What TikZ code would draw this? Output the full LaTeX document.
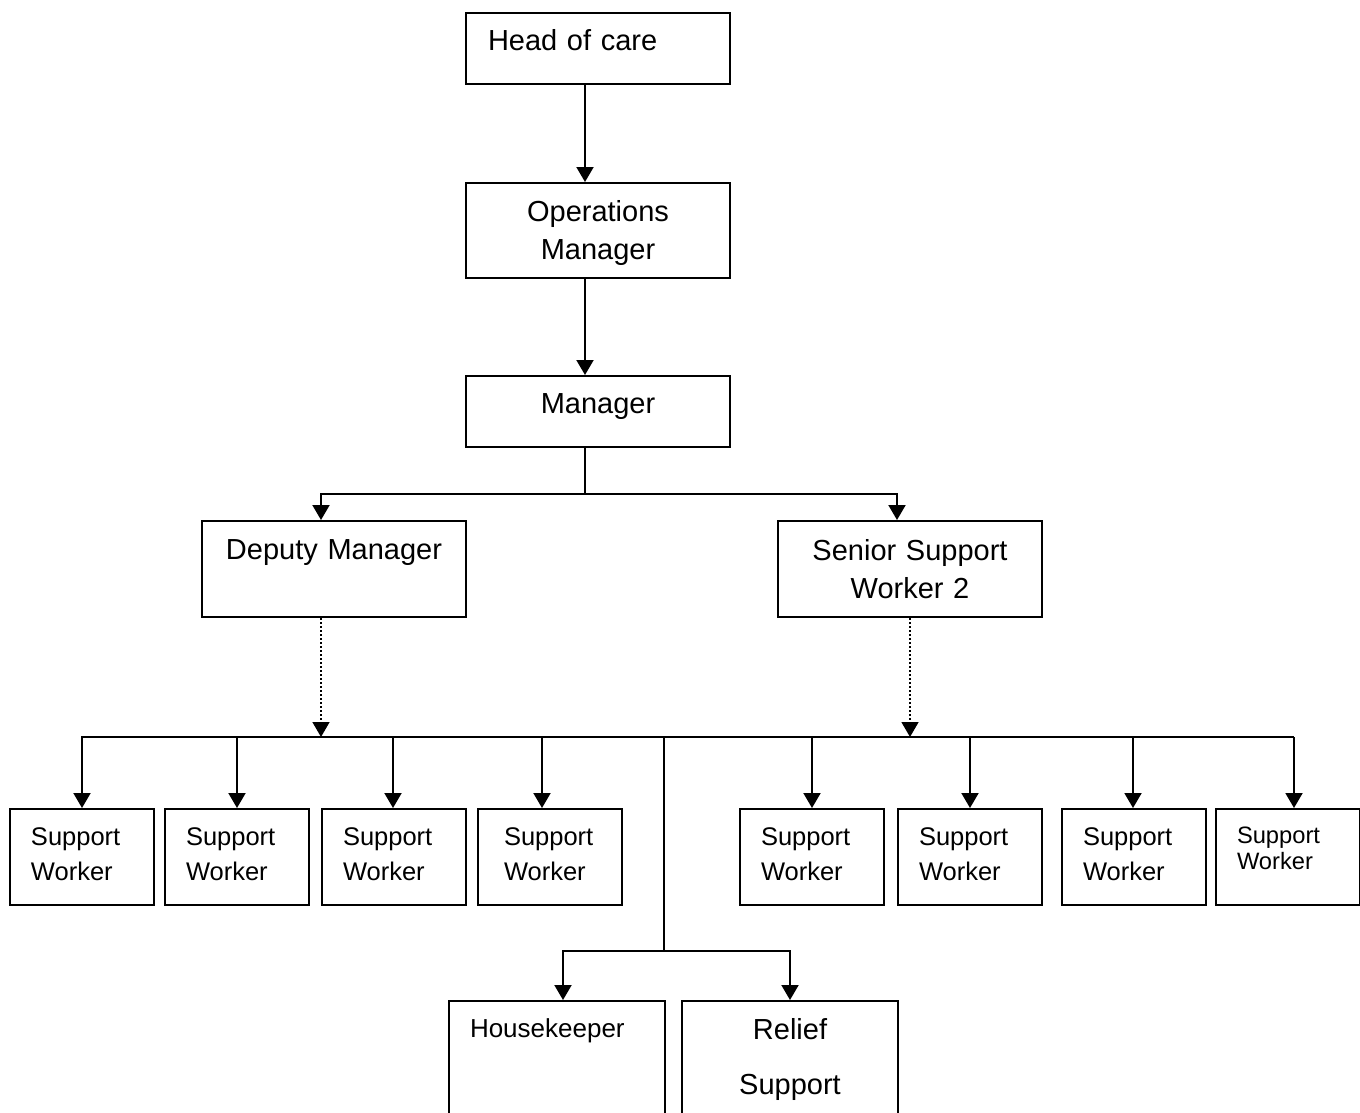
\documentclass[tikz,border=0pt]{standalone}
\usepackage{fontspec}
\setmainfont{Liberation Sans}
\usetikzlibrary{arrows.meta}

\begin{document}
\begin{tikzpicture}[x=0.5pt, y=-0.5pt]
            \tikzstyle{box} = [draw, line width=1pt, anchor=north west, inner ysep=0pt]
            \tikzstyle{big} = [font=\fontsize{14.5pt}{19pt}\selectfont]
            \tikzstyle{wide} = [text width=122pt, inner xsep=5pt, align=center]
            \tikzstyle{worker} = [font=\fontsize{12.75pt}{17.5pt}\selectfont, align=left, text height=18pt, text depth=30pt]
            \tikzstyle{link} = [line width=1pt]
            \tikzstyle{arr} = [line width=1pt, -{Triangle[width=8.5pt, length=7.5pt]}]
            \tikzstyle{weak} = [line width=0.75pt, dash pattern=on 1pt off 1pt, -{Triangle[width=8.5pt, length=7.5pt]}]
            \useasboundingbox (0, 0) rectangle (1360, 1113);
            \clip (0, 0) rectangle (1360, 1113);
            \coordinate (mj) at (585, 494);
            \coordinate (dj) at (321, 494);
            \coordinate (sj) at (897, 494);
            \coordinate (rowL) at (81, 737);
            \coordinate (rowR) at (1294, 737);
            \coordinate (hj) at (664, 737);
            \coordinate (bj) at (664, 951);
            \node[box, big, text width=110pt, inner xsep=11pt, align=left, text height=19pt, text depth=16.5pt] (head) at (465, 12) {Head of care};
            \node[box, big, wide, text height=19pt, text depth=28.5pt] (ops) at (465, 182) {Operations\\Manager};
            \node[box, big, wide, text height=18.5pt, text depth=17pt] (mgr) at (465, 375) {Manager};
            \node[box, big, wide, text height=19pt, text depth=29pt] (deputy) at (201, 520) {Deputy Manager};
            \node[box, big, wide, text height=19.5pt, text depth=28.5pt] (senior) at (777, 520) {Senior Support\\Worker 2};
            \foreach \n/\x/\pad/\w in {1/9/10.5pt/51pt, 2/164/10.5pt/51pt, 3/321/10.5pt/51pt, 4/477/13pt/46pt,
                5/739/10.5pt/51pt, 6/897/10.5pt/51pt, 7/1061/10.5pt/51pt}
                \node[box, worker, inner xsep=\pad, text width=\w] (sw\n) at (\x, 808) {Support\\Worker};
            \node[box, worker, font=\fontsize{11.85pt}{13.35pt}\selectfont, inner xsep=10.5pt, text width=51pt, text height=17pt, text depth=31pt] (sw8) at (1215, 808) {Support\\Worker};
            \node[box, font=\fontsize{13pt}{16pt}\selectfont, text width=87pt, inner xsep=10.5pt, align=left, text height=18pt, text depth=57pt] (house) at (448, 1000) {Housekeeper};
            \node[box, font=\fontsize{14.5pt}{27.5pt}\selectfont, text width=98pt, inner xsep=5pt, align=center, text height=19pt, text depth=56pt] (relief) at (681, 1000) {Relief\\Support};
            % top of the chart
            \draw[arr] (head.south -| mj) -- (ops.north -| mj);
            \draw[arr] (ops.south -| mj) -- (mgr.north -| mj);
            \draw[link] (mgr.south -| mj) -- (mj);
            \draw[arr] (mj) -| (dj |- deputy.north);
            \draw[arr] (mj) -| (sj |- senior.north);
            \draw[weak] (dj |- deputy.south) -- (dj |- rowL);
            \draw[weak] (senior.south) -- (senior.south |- rowL);
            % support workers
            \draw[link] (rowL) -- (rowR);
            \foreach \n/\dx in {1/0, 2/0, 3/-1, 4/-8, 5/0, 6/0, 7/-1, 8/6} {
                \coordinate (t\n) at ([xshift=\dx*0.5pt]sw\n.north);
                \draw[arr] (t\n |- rowL) -- (t\n);
            }
            % housekeeper and relief
            \draw[link] (hj) -- (bj);
            \draw[arr] (bj) -| ([xshift=3pt]house.north);
            \draw[arr] (bj) -| (relief.north);
        \end{tikzpicture}
\end{document}
